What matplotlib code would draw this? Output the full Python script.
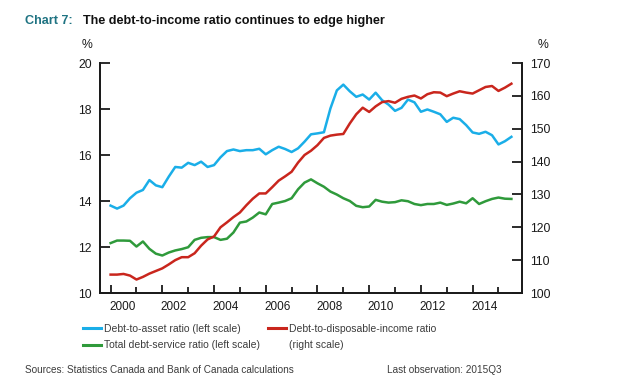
import matplotlib
matplotlib.use("Agg")
import matplotlib.pyplot as plt
from matplotlib.lines import Line2D
import numpy as np

plt.rcParams['font.family'] = ['Liberation Sans', 'DejaVu Sans']

# Quarterly data, 2000Q1 .. 2015Q3
start_year = 2000
debt_to_asset = [
    13.80, 13.67, 13.80, 14.12,
    14.36, 14.48, 14.91, 14.68,
    14.60, 15.06, 15.48, 15.45,
    15.66, 15.56, 15.71, 15.48,
    15.56, 15.90, 16.17, 16.24,
    16.17, 16.21, 16.21, 16.27,
    16.03, 16.21, 16.36, 16.26,
    16.13, 16.29, 16.58, 16.90,
    16.94, 16.99, 18.02, 18.81,
    19.06, 18.77, 18.53, 18.63,
    18.41, 18.71, 18.38, 18.19,
    17.92, 18.05, 18.41, 18.29,
    17.88, 17.98, 17.88, 17.77,
    17.44, 17.62, 17.56, 17.30,
    16.98, 16.92, 17.01, 16.86,
    16.46, 16.60, 16.79,
]
debt_service = [
    12.17, 12.28, 12.28, 12.27,
    12.02, 12.24, 11.92, 11.71,
    11.63, 11.76, 11.85, 11.91,
    11.99, 12.31, 12.40, 12.43,
    12.43, 12.31, 12.36, 12.63,
    13.06, 13.11, 13.28, 13.50,
    13.42, 13.87, 13.93, 14.00,
    14.12, 14.51, 14.80, 14.94,
    14.77, 14.62, 14.41, 14.28,
    14.12, 14.00, 13.79, 13.73,
    13.76, 14.05, 13.97, 13.93,
    13.95, 14.03, 13.99, 13.87,
    13.82, 13.87, 13.87, 13.93,
    13.83, 13.89, 13.97, 13.90,
    14.12, 13.87, 13.99, 14.09,
    14.15, 14.10, 14.09,
]
debt_to_income = [
    105.6, 105.6, 105.8, 105.3,
    104.1, 104.9, 105.9, 106.7,
    107.5, 108.7, 110.0, 110.9,
    110.9, 112.1, 114.4, 116.3,
    117.2, 120.0, 121.5, 123.1,
    124.5, 126.7, 128.7, 130.3,
    130.3, 132.2, 134.2, 135.5,
    136.9, 139.7, 142.0, 143.3,
    145.0, 147.2, 147.9, 148.2,
    148.4, 151.6, 154.4, 156.4,
    155.1, 156.8, 158.1, 158.4,
    157.9, 159.1, 159.7, 160.1,
    159.2, 160.5, 161.1, 161.0,
    159.9, 160.7, 161.4, 161.0,
    160.7, 161.7, 162.7, 163.0,
    161.5, 162.5, 163.7,
]
year_labels = [2000, 2002, 2004, 2006, 2008, 2010, 2012, 2014]
left_ticks = [10, 12, 14, 16, 18, 20]
right_ticks = [100, 110, 120, 130, 140, 150, 160, 170]

x = start_year + np.arange(len(debt_to_asset)) / 4.0

BLUE = '#1aaee8'
RED = '#c9261d'
GREEN = '#2f9a3b'
TEAL = '#1f7382'
TXT = '#1a1a1a'
GRAY = '#3c3c3c'

fig = plt.figure(figsize=(6.31, 3.88), dpi=100)
ax = fig.add_axes([100/631, 1-293/388, 422/631, 230/388])
ax2 = ax.twinx()

ax.plot(x, debt_to_asset, color=BLUE, lw=1.8, solid_joinstyle='round')
ax.plot(x, debt_service, color=GREEN, lw=1.8, solid_joinstyle='round')
ax2.plot(x, debt_to_income, color=RED, lw=1.8, solid_joinstyle='round')

ax.set_xlim(1999.59, 2015.91)
ax.set_ylim(10, 20)
ax2.set_ylim(100, 170)

for a in (ax, ax2):
    a.spines['top'].set_visible(False)
    for s in ('left', 'right', 'bottom'):
        a.spines[s].set_linewidth(1.3)
        a.spines[s].set_color(TXT)

ax.set_yticks(left_ticks)
ax2.set_yticks(right_ticks)
ax.tick_params(axis='y', direction='in', length=7, width=1.3, labelsize=8.8, pad=6, colors=TXT)
ax2.tick_params(axis='y', direction='in', length=7, width=1.3, labelsize=8.8, pad=6, colors=TXT)

ax.set_xticks(year_labels)
ax.set_xticks([y + 1 for y in year_labels], minor=True)
ax.set_xticklabels([])
ax.tick_params(axis='x', which='major', direction='in', length=6, width=1.3, color=TXT)
ax.tick_params(axis='x', which='minor', direction='in', length=4, width=1.3, color=TXT)
for yr in year_labels:
    ax.text(yr + 0.45, -0.035, str(yr), transform=ax.get_xaxis_transform(),
            ha='center', va='top', fontsize=8.5, color=TXT)

fig.text(92/631, 1-45/388, '%', ha='right', va='center', fontsize=8.8, color=TXT)
fig.text(538/631, 1-45/388, '%', ha='left', va='center', fontsize=8.8, color=TXT)

# Title
fig.text(25/631, 1-21/388, 'Chart 7:', ha='left', va='center', fontsize=9.1,
         fontweight='bold', color=TEAL)
fig.text(83/631, 1-21/388, 'The debt-to-income ratio continues to edge higher', ha='left',
         va='center', fontsize=9.1, fontweight='bold', color='#111111')

# Legend (two columns placed separately)
leg_kw = dict(loc='upper left', frameon=False, fontsize=7.5, handlelength=1.7,
              handletextpad=0.3, labelspacing=0.6, borderaxespad=0, borderpad=0)
leg1 = fig.legend([Line2D([], [], color=BLUE, lw=2.2), Line2D([], [], color=GREEN, lw=2.2)],
                  ['Debt-to-asset ratio (left scale)', 'Total debt-service ratio (left scale)'],
                  bbox_to_anchor=(83/631, 1-324/388), **leg_kw)
leg2 = fig.legend([Line2D([], [], color=RED, lw=2.2), Line2D([], [], color='none', lw=0)],
                  ['Debt-to-disposable-income ratio', '(right scale)'],
                  bbox_to_anchor=(268/631, 1-324/388), **leg_kw)
for lg in (leg1, leg2):
    for t in lg.get_texts():
        t.set_color(GRAY)

fig.text(25/631, 1-370/388, 'Sources: Statistics Canada and Bank of Canada calculations',
         ha='left', va='center', fontsize=7.2, color=GRAY)
fig.text(502/631, 1-370/388, 'Last observation: 2015Q3', ha='right', va='center',
         fontsize=7.2, color=GRAY)

fig.savefig('out.png', dpi=100)
